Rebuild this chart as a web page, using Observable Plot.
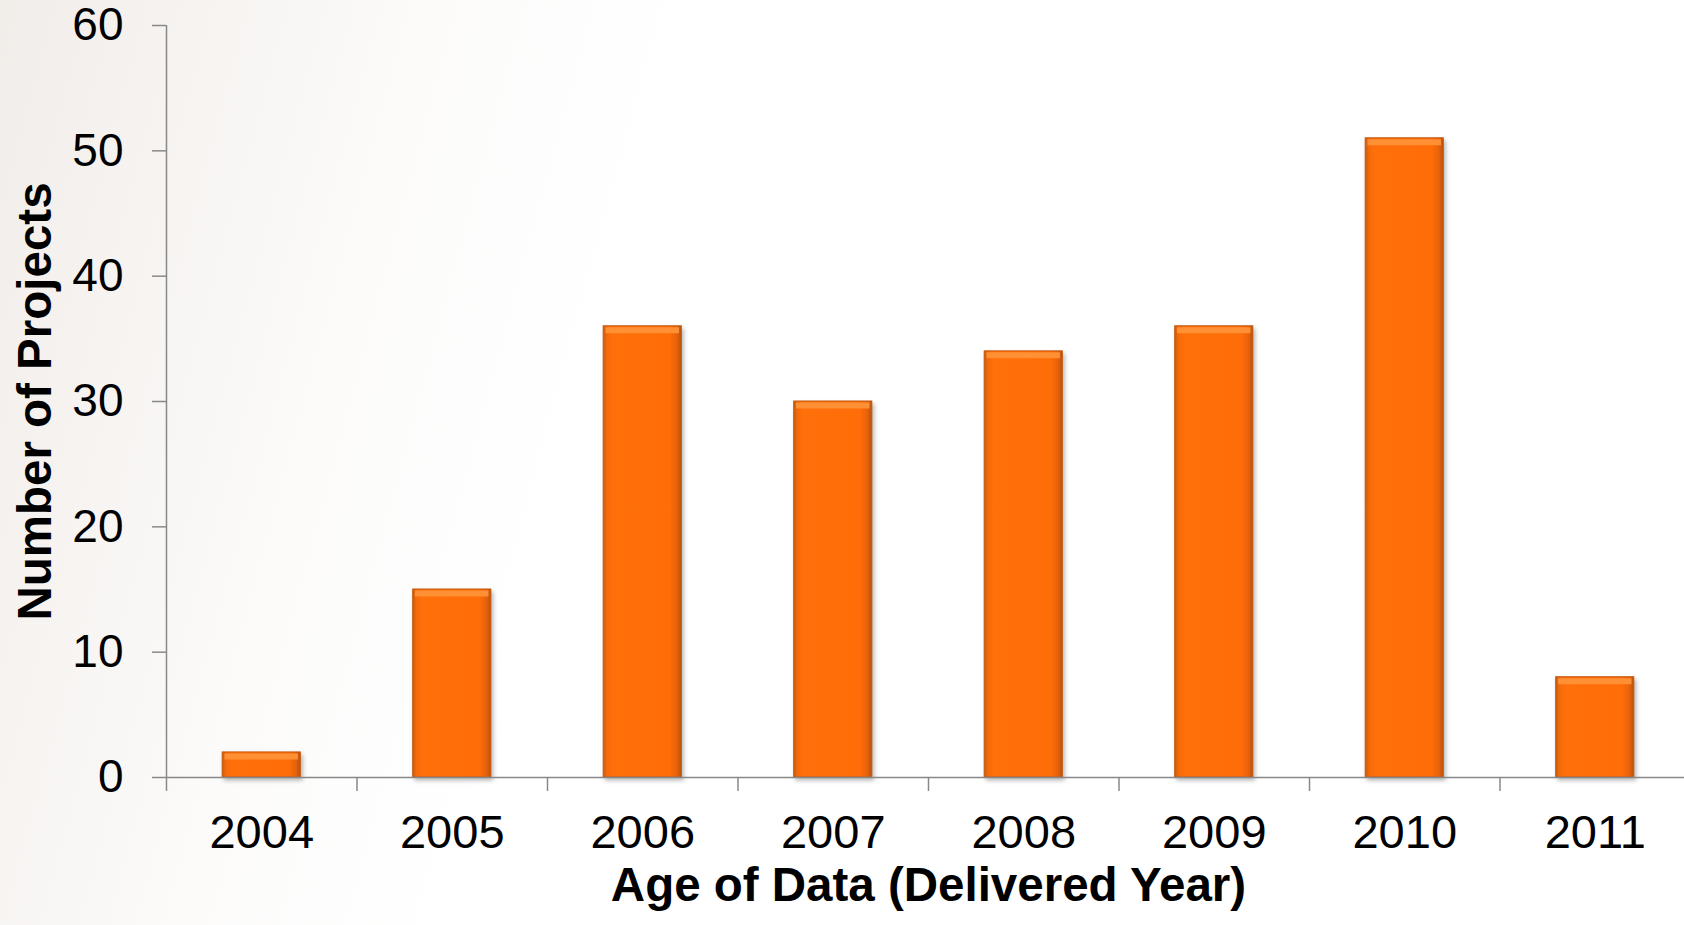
<!DOCTYPE html>
<html>
<head>
<meta charset="utf-8">
<script src="https://cdn.jsdelivr.net/npm/d3@7"></script>
<script src="https://cdn.jsdelivr.net/npm/@observablehq/plot@0.6"></script>
<style>
  html, body { margin: 0; padding: 0; width: 1684px; height: 925px; overflow: hidden; }
  body { background: linear-gradient(105deg, #f1ede9 0%, #f7f4f2 12%, #fcfbfa 22%, #ffffff 36%); }
  #chart svg { display: block; overflow: hidden; }
  g[aria-label="rect"] rect { filter: drop-shadow(2px 3px 2px rgba(0,0,0,0.28)); }
</style>
</head>
<body>
<div id="chart"></div>
<script>
// ---- data ----
const years = [2004, 2005, 2006, 2007, 2008, 2009, 2010, 2011];
const projects = [2, 15, 36, 30, 34, 36, 51, 8];
const yTicks = [0, 10, 20, 30, 40, 50, 60];
const xTitle = "Age of Data (Delivered Year)";
const yTitle = "Number of Projects";

// ---- build ----
const data = years.map((year, i) => ({year, value: projects[i]}));
const bounds = years.map(y => y - 0.5).concat([years[years.length - 1] + 0.5]);
const half = 0.205;
const gray = "#888888";
const font = "'Liberation Sans', Arial, Helvetica, sans-serif";

const chart = Plot.plot({
  width: 1684,
  height: 925,
  marginLeft: 166,
  marginRight: -6,
  marginTop: 25,
  marginBottom: 148,
  style: {fontFamily: font, fontSize: "46px", color: "#000", background: "transparent", overflow: "hidden"},
  x: {type: "linear", domain: [bounds[0], bounds[bounds.length - 1]]},
  y: {domain: [0, 60]},
  marks: [
    Plot.rectY(data, {
      x1: d => d.year - half, x2: d => d.year + half, y: "value",
      fill: "url(#barGrad)", stroke: "#c4580f", strokeWidth: 1
    }),
    Plot.ruleY(data, {
      y: "value", x1: d => d.year - half + 0.012, x2: d => d.year + half - 0.012,
      dy: 4, stroke: "#ff9438", strokeWidth: 6, strokeOpacity: 0.9
    }),
    Plot.ruleY([0], {stroke: gray, strokeWidth: 1.5}),
    Plot.ruleX([bounds[0]], {stroke: gray, strokeWidth: 1.5}),
    Plot.axisY({ticks: yTicks, tickSize: 14, tickPadding: 29, stroke: gray, strokeWidth: 1.5,
      label: null, fontSize: 46, fill: "#000", tickFormat: d => String(d)}),
    Plot.axisX({ticks: bounds, tickSize: 14, tickFormat: () => "", stroke: gray, strokeWidth: 1.5, label: null}),
    Plot.axisX({ticks: years, tickSize: 0, tickPadding: 37, tickFormat: d => String(d),
      label: null, fontSize: 47, fill: "#000"}),
    Plot.text([yTitle], {text: d => d, frameAnchor: "left", textAnchor: "middle", lineAnchor: "middle",
      rotate: -90, dx: -131, fontWeight: "bold", fontSize: 47.5, fill: "#000"}),
    Plot.text([xTitle], {text: d => d, frameAnchor: "bottom", textAnchor: "middle", lineAnchor: "middle",
      dy: 108, fontWeight: "bold", fontSize: 47.5, fill: "#000"})
  ]
});

d3.select(chart).insert("defs", ":first-child").html(`
  <linearGradient id="barGrad" x1="0" y1="0" x2="1" y2="0">
    <stop offset="0" stop-color="#c85c12"/>
    <stop offset="0.05" stop-color="#f56a0a"/>
    <stop offset="0.12" stop-color="#ff6f0a"/>
    <stop offset="0.85" stop-color="#ff6d08"/>
    <stop offset="0.94" stop-color="#e8620a"/>
    <stop offset="1" stop-color="#b8530f"/>
  </linearGradient>`);

document.getElementById("chart").appendChild(chart);
</script>
</body>
</html>
